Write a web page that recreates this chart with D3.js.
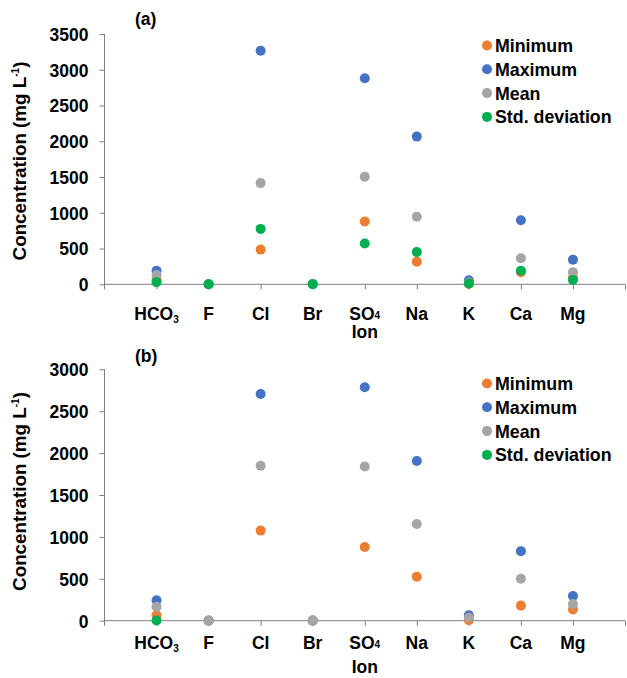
<!DOCTYPE html>
<html><head><meta charset="utf-8">
<script src="https://cdn.jsdelivr.net/npm/d3@7"></script>
<style>
body{margin:0;background:#fff;}
svg text{font-family:"Liberation Sans",Arial,sans-serif;font-weight:bold;fill:#000;}
</style></head><body>
<svg id="c" width="627" height="678"></svg>
<script>
const ions = ["HCO3","F","Cl","Br","SO4","Na","K","Ca","Mg"];
const seriesNames = ["Minimum","Maximum","Mean","Std. deviation"];
const seriesColors = ["#ED7D31","#4472C4","#A5A5A5","#00B050"];

// Panel (a)
const aMin  = [60, 0.5, 485, 1, 877, 315, 5, 170, 95];
const aMax  = [190, 2, 3265, 5, 2880, 2065, 55, 895, 345];
const aMean = [130, 1, 1415, 3, 1505, 945, 25, 365, 170];
const aStd  = [30, 0.5, 775, 1, 570, 450, 12, 190, 60];
const aTicks = [0,500,1000,1500,2000,2500,3000,3500];

// Panel (b)
const bMin  = [65, 0.3, 1075, 0.5, 880, 525, 5, 180, 135];
const bMax  = [245, 1, 2705, 2, 2785, 1905, 65, 830, 295];
const bMean = [165, 0.5, 1850, 1, 1840, 1155, 35, 500, 200];
const bStd  = [3, null, null, null, null, null, null, null, null];
const bTicks = [0,500,1000,1500,2000,2500,3000];

const svg = d3.select("#c");
const axisColor = "#7f7f7f";

function panel(cfg){
  const g = svg.append("g");
  const x = d3.scaleLinear().domain([0,10]).range([104.5,625]);
  const y = d3.scaleLinear().domain([0,cfg.ymax]).range([cfg.y0,cfg.ytop]);

  // y axis
  const ya = g.append("g").attr("transform",`translate(${x(0)},0)`)
    .call(d3.axisLeft(y).tickValues(cfg.ticks).tickSize(5).tickPadding(11).tickFormat(d3.format("d")));
  ya.select(".domain").attr("stroke",axisColor).attr("d",`M-0,${y(cfg.ymax)}V${cfg.y0+5}`);
  ya.selectAll(".tick line").attr("stroke",axisColor);
  ya.selectAll(".tick text").style("font-size","17.5px").attr("dy","0.36em");

  // x axis
  const xa = g.append("g").attr("transform",`translate(0,${cfg.y0})`)
    .call(d3.axisBottom(x).tickValues(d3.range(1,11)).tickSize(5).tickFormat(""));
  xa.select(".domain").attr("stroke",axisColor).attr("d",`M${x(0)},0H${x(10)}`);
  xa.selectAll(".tick line").attr("stroke",axisColor);

  // category labels
  ions.forEach((ion,i)=>{
    const t = g.append("text").attr("x",x(i+1)).attr("y",cfg.labelY)
      .attr("text-anchor","middle").style("font-size","17.5px");
    if(ion==="HCO3"){
      t.append("tspan").text("HCO");
      t.append("tspan").text("3").attr("dy",3).style("font-size","10px");
    } else if(ion==="SO4"){
      t.append("tspan").text("SO");
      t.append("tspan").text("4").attr("dy",-1).style("font-size","10px");
    } else t.text(ion);
  });

  // x title
  g.append("text").attr("x",x(5)).attr("y",cfg.ionY).attr("text-anchor","middle")
    .style("font-size","17.5px").text("Ion");

  // y title
  const yt = g.append("text").attr("transform",`translate(26,${cfg.ylabC}) rotate(-90)`)
    .attr("text-anchor","middle").style("font-size","18.8px");
  yt.append("tspan").text("Concentration (mg L");
  yt.append("tspan").text("-1").attr("dy",-7).style("font-size","10px");
  yt.append("tspan").text(")").attr("dy",7);

  // panel tag
  g.append("text").attr("x",135).attr("y",cfg.tagY).style("font-size","17.5px").text(cfg.tag);

  // points
  cfg.data.forEach((vals,si)=>{
    g.append("g").selectAll("circle")
      .data(vals.map((v,i)=>({v,i})).filter(d=>d.v!==null))
      .join("circle")
      .attr("cx",d=>x(d.i+1)).attr("cy",d=>y(d.v)).attr("r",5)
      .attr("fill",seriesColors[si]);
  });

  // legend
  seriesNames.forEach((n,si)=>{
    const ly = cfg.legY + si*23.8;
    g.append("circle").attr("cx",487).attr("cy",ly).attr("r",5).attr("fill",seriesColors[si]);
    g.append("text").attr("x",495).attr("y",ly).attr("dy","0.36em").style("font-size","17.8px").text(n);
  });
}

panel({ymax:3500,y0:284.3,ytop:34,ticks:aTicks,data:[aMin,aMax,aMean,aStd],
  labelY:319.5,ionY:338,tag:"(a)",tagY:25,legY:45.5,ylabC:161});
panel({ymax:3000,y0:620.7,ytop:369.3,ticks:bTicks,data:[bMin,bMax,bMean,bStd],
  labelY:648.5,ionY:673,tag:"(b)",tagY:362,legY:383.5,ylabC:491.5});
</script>
</body></html>
